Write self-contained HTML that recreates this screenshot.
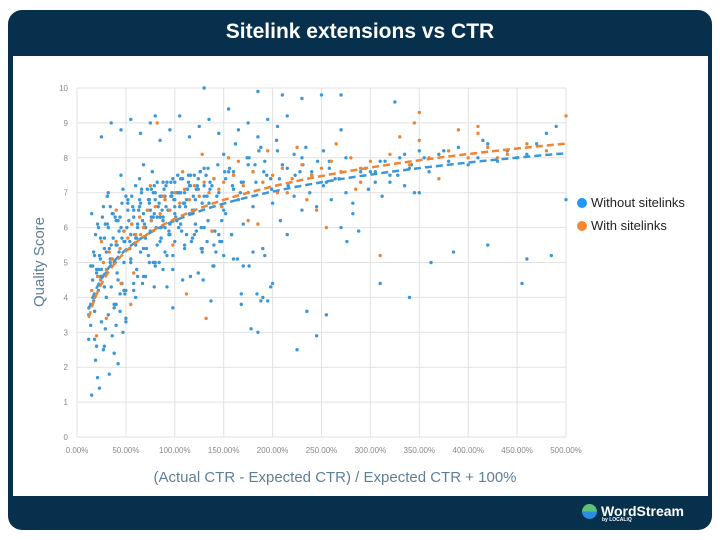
<!DOCTYPE html>
<html><head><meta charset="utf-8">
<style>
html,body{margin:0;padding:0;background:#fff;}
body{width:720px;height:540px;position:relative;overflow:hidden;font-family:"Liberation Sans",sans-serif;}
#frame{position:absolute;left:8px;top:10px;width:704px;height:520px;background:#07304d;border-radius:14px;}
#title{position:absolute;left:0;width:720px;text-align:center;color:#fff;font-weight:bold;font-size:21px;top:20px;}
#panel{position:absolute;left:13px;top:56px;width:695px;height:440px;background:#fff;}
#logo{position:absolute;left:582px;top:503px;color:#fff;font-weight:bold;font-size:14px;}
</style></head><body>
<div id="frame"></div>
<div id="title">Sitelink extensions vs CTR</div>
<div id="panel"></div>
<div id="logo"><span style="display:inline-block;width:15px;height:15px;border-radius:50%;background:linear-gradient(#5cc27a 50%,#2a8ee0 50%);vertical-align:-3px;margin-right:4px"></span>WordStream<div style="font-size:5px;margin-left:20px;margin-top:-2px">by LOCALiQ</div></div>
<svg id="chart" width="720" height="540" style="position:absolute;left:0;top:0"></svg>
<script>
const xTicks=[0,50,100,150,200,250,300,350,400,450,500];
const xTickLabels=["0.00%","50.00%","100.00%","150.00%","200.00%","250.00%","300.00%","350.00%","400.00%","450.00%","500.00%"];
const yTicks=[0,1,2,3,4,5,6,7,8,9,10];
const seriesNames=["Without sitelinks","With sitelinks"];
const blueX=[12,14,15,16,17,18,19,20,21,22,23,24,25,26,27,28,29,30,31,32,33,34,35,36,37,38,39,40,41,42,43,44,45,46,47,48,49,50,
12,15,18,20,22,25,27,30,32,35,38,40,42,45,48,50,52,55,58,60,62,65,68,70,72,75,78,80,82,85,88,90,92,95,98,100,
14,17,21,24,28,31,34,37,41,44,47,51,54,57,61,64,67,71,74,77,81,84,87,91,94,97,101,104,107,111,114,117,121,124,127,
52,55,58,61,64,67,70,73,76,79,82,85,88,91,94,97,100,103,106,109,112,115,118,121,124,127,130,133,136,139,142,145,148,
60,65,70,75,80,85,90,95,100,105,110,115,120,125,130,135,140,145,150,155,160,165,170,175,180,185,190,195,200,
55,62,68,74,79,86,92,98,104,110,116,122,128,134,140,146,152,158,164,170,176,182,188,194,
150,156,162,168,174,180,186,192,198,204,210,216,222,228,234,240,246,252,258,264,270,276,282,288,
200,208,215,222,230,238,245,252,260,268,275,282,290,298,305,312,320,328,335,342,350,
300,310,320,330,340,350,360,370,380,390,400,410,420,430,440,450,460,470,480,490,
25,35,45,55,65,75,85,95,105,115,125,135,145,155,165,175,185,195,205,215,225,235,245,255,
18,28,38,48,58,68,78,88,98,108,118,128,138,148,158,168,178,188,198,
30,40,50,60,70,80,90,100,110,120,130,140,150,160,170,180,190,210,230,250,270,
80,130,185,205,230,255,270,305,325,345,385,415,455,460,485,500,340,362,310,420,
16,19,23,26,29,33,36,39,43,46,49,53,56,59,63,66,69,73,76,79,83,86,89,93,96,99,102,106,109,113,116,119,123,126,129,133,137,141,
22,26,30,34,38,42,46,50,54,58,62,66,70,74,78,82,86,90,94,98,102,106,110,114,118,122,126,130,134,138,144,152,160,168,176,184,192,
20,24,28,32,36,40,44,48,52,56,60,64,68,72,76,80,84,88,92,96,100,104,108,112,116,120,124,128,132,136,143,151,159,167,175,183,191,199,207,215,223,231,240,258,275,295,315,335,355,375,395,415,435,455];
const blueY=[2.8,3.2,1.2,4.5,3.9,3.6,2.2,4.8,1.7,4.2,1.4,5.1,3.3,4.6,2.5,5.4,3.1,4.0,6.1,3.5,1.8,5.0,4.3,2.9,5.7,3.8,6.3,3.2,4.7,2.1,5.3,3.6,6.0,4.4,3.0,5.6,4.1,3.4,
3.5,6.4,5.2,2.6,6.0,4.8,6.6,4.0,7.0,5.5,3.7,6.2,4.5,7.5,5.0,3.3,6.7,5.8,4.2,7.2,6.1,5.3,7.8,4.6,6.5,5.9,7.0,4.9,6.3,5.6,7.3,6.0,
4.3,5.8,3.7,6.8,4.9,5.3,6.1,4.6,5.7,6.9,5.1,6.4,5.5,4.1,7.1,6.0,5.6,6.6,4.8,7.4,6.2,5.4,6.8,7.6,6.0,5.0,6.5,7.2,5.8,6.9,6.3,7.0,5.9,6.6,7.3,
5.6,6.1,4.7,5.4,6.5,5.0,6.3,5.7,6.8,4.4,6.0,5.2,7.1,6.4,5.5,6.9,6.2,6.6,5.9,7.0,6.4,7.5,6.1,6.7,5.8,7.2,6.5,6.8,7.4,6.0,7.7,6.9,7.1,
4.9,5.3,5.8,6.2,5.5,6.7,6.0,6.5,7.0,6.3,6.8,6.1,7.3,6.6,7.0,6.4,7.5,6.9,7.2,6.7,7.4,7.0,6.5,7.6,7.1,6.8,7.3,7.0,6.6,
3.0,4.0,3.9,4.4,5.1,4.6,5.4,5.0,4.3,5.7,5.2,4.8,6.0,5.5,4.6,5.9,5.3,6.2,4.9,5.6,6.4,5.8,5.1,6.1,
8.0,7.8,8.3,7.5,8.1,7.7,8.4,7.3,8.0,7.6,8.2,7.9,7.4,8.5,7.8,7.2,8.1,7.6,8.3,7.5,7.9,8.2,7.7,7.4,
6.0,5.6,6.4,5.9,6.7,6.2,5.8,6.9,6.5,7.0,6.6,7.2,6.8,7.4,7.0,6.7,7.6,7.1,7.3,6.9,7.5,
7.5,7.2,7.8,7.0,7.6,7.9,7.3,8.0,7.7,8.2,7.6,8.1,7.9,8.3,7.8,8.0,8.4,7.9,8.2,8.0,
8.1,8.4,8.7,8.9,8.6,9.0,8.8,9.1,8.7,9.0,8.5,8.8,9.2,8.6,8.9,9.1,8.7,9.4,8.8,9.0,8.6,9.1,8.9,9.2,
2.5,3.6,2.9,3.5,2.8,2.6,2.4,4.2,4.4,4.6,5.0,4.8,5.2,4.5,5.7,5.4,5.9,5.6,5.8,
4.1,3.1,3.9,4.3,4.7,3.8,4.2,4.0,4.6,5.0,5.3,5.6,5.4,5.8,6.0,5.5,5.2,5.1,4.9,5.3,5.4,
9.8,9.7,9.8,9.8,9.2,10,9.9,8.2,8.0,7.3,8.8,7.6,9.6,7.0,5.3,8.5,4.4,5.1,5.2,6.8,
4.0,5.0,4.4,5.5,4.9,5.8,5.2,4.6,6.1,5.4,6.4,5.0,5.9,6.7,5.6,6.2,6.9,5.8,6.5,7.0,6.1,6.8,6.3,7.2,6.6,6.9,7.1,6.5,7.3,6.8,7.0,7.4,6.7,7.1,7.5,6.9,7.2,7.6,
4.5,5.6,3.9,5.9,4.8,6.3,5.3,6.6,5.0,6.2,5.7,6.9,5.4,6.5,6.0,7.1,5.7,6.7,6.3,7.3,6.0,6.9,6.5,7.4,6.2,7.0,6.7,7.5,6.4,7.1,7.6,6.9,7.7,7.2,7.8,7.4,7.6,
3.8,4.9,4.1,5.2,4.7,5.7,4.3,6.0,5.1,5.5,6.3,5.9,6.8,6.1,5.7,6.6,6.4,7.1,6.2,6.8,6.7,6.3,7.3,6.9,6.6,7.0,7.4,6.8,7.2,6.5,7.1,6.7,7.5,7.3,6.9,7.6,7.2,7.0,7.8,7.3,7.6,7.1,7.4,7.7,7.5,7.8,7.6,7.9,8.0,7.7,7.9,8.1,8.0,8.2];
const orangeX=[12,15,18,21,24,27,30,33,36,40,44,48,52,56,60,64,68,72,76,80,85,90,95,100,105,110,115,120,125,130,135,140,145,150,160,170,180,190,200,210,220,230,240,250,260,270,280,290,300,320,340,360,380,400,420,440,460,480,500,
20,30,45,55,65,75,88,98,108,118,128,138,148,165,185,205,225,245,265,285,310,330,350,370,390,410,430,
25,40,58,82,112,132,155,175,195,215,235,255,290,350,345,410];
const orangeY=[3.7,4.2,4.0,4.6,4.5,5.0,4.8,5.3,5.1,5.6,5.4,5.9,5.7,6.1,5.8,6.3,6.0,6.5,6.2,6.6,6.4,6.8,6.5,7.0,6.7,7.1,6.8,7.2,6.9,7.3,7.0,7.4,7.1,7.3,7.5,7.2,7.6,7.3,7.5,7.7,7.4,7.8,7.5,7.7,7.9,7.6,8.0,7.7,7.9,8.1,7.8,8.0,8.2,8.0,8.3,8.1,8.4,8.2,9.2,
2.9,3.4,4.4,3.8,5.8,7.2,6.9,5.5,7.6,6.4,8.1,5.9,6.6,7.9,6.1,7.0,8.3,6.5,8.4,7.1,5.2,8.6,9.3,7.4,8.8,8.9,8.0,
5.6,6.5,4.7,9.0,4.1,3.4,8.0,6.2,8.2,7.0,6.8,6.0,7.3,8.5,9.0,8.7];
const trendBlue=[6.2,1.2];   // y = a + b*ln(x/100)
const trendOrange=[6.25,1.34];

const svg=document.getElementById('chart');const NS='http://www.w3.org/2000/svg';
const X0=77,X1=566,Y0=437,Y1=88;
function sx(v){return X0+(v/500)*(X1-X0);}
function sy(v){return Y0-(v/10)*(Y0-Y1);}
function mk(t,a){const e=document.createElementNS(NS,t);for(const k in a)e.setAttribute(k,a[k]);svg.appendChild(e);return e;}
xTicks.forEach((t,i)=>{
 const l=mk('line',{x1:sx(t),x2:sx(t),y1:Y1,y2:Y0,stroke:'#e2e2e2','stroke-width':1});
 
 
 const tx=mk('text',{x:sx(t),y:Y0+16,'text-anchor':'middle','font-size':8,fill:'#888','font-family':'Liberation Sans, sans-serif'});
 tx.textContent=xTickLabels[i];
 
 
});
yTicks.forEach(t=>{
 const l=mk('line',{x1:X0,x2:X1,y1:sy(t),y2:sy(t),stroke:'#e2e2e2','stroke-width':1});
 
 
 const tx=mk('text',{x:X0-9,y:sy(t)+3,'text-anchor':'end','font-size':8,fill:'#888','font-family':'Liberation Sans, sans-serif'});
 tx.textContent=String(t);
 
 
});
blueX.forEach((x,i)=>{
 if(typeof blueY[i]!=='number')return;
 const c=mk('circle',{cx:sx(x),cy:sy(blueY[i]),r:1.7,fill:'#3b97d8'});
 
 
});
orangeX.forEach((x,i)=>{
 if(typeof orangeY[i]!=='number')return;
 const c=mk('circle',{cx:sx(x),cy:sy(orangeY[i]),r:1.7,fill:'#ef8432'});
 
 
});
function trend(p,col,name){
 let d='';for(let x=12;x<=500;x+=4){const y=p[0]+p[1]*Math.log(x/100);d+=(d?'L':'M')+sx(x).toFixed(1)+','+sy(y).toFixed(1);}
 const e=mk('path',{d:d,fill:'none',stroke:col,'stroke-width':2.5,'stroke-dasharray':'7,4'});
 
 
}
trend(trendBlue,'#3b97d8','trendline-without-sitelinks');
trend(trendOrange,'#ef8432','trendline-with-sitelinks');
const cols=['#2196f3','#f7882f'];
seriesNames.forEach((n,i)=>{
 const c=mk('circle',{cx:582,cy:203+i*23,r:5,fill:cols[i]});
 
 
 const t=mk('text',{x:591,y:207+i*23,'font-size':13,fill:'#222','font-family':'Liberation Sans, sans-serif'});
 t.textContent=n;
 
 
});
const xt=mk('text',{x:335,y:482,'text-anchor':'middle','font-size':15,fill:'#5e7f98','font-family':'Liberation Sans, sans-serif'});
xt.textContent='(Actual CTR - Expected CTR) / Expected CTR + 100%';


const yt=mk('text',{x:0,y:0,'text-anchor':'middle','font-size':15,fill:'#5e7f98','font-family':'Liberation Sans, sans-serif',transform:'translate(44,262) rotate(-90)'});
yt.textContent='Quality Score';


</script>
</body></html>
